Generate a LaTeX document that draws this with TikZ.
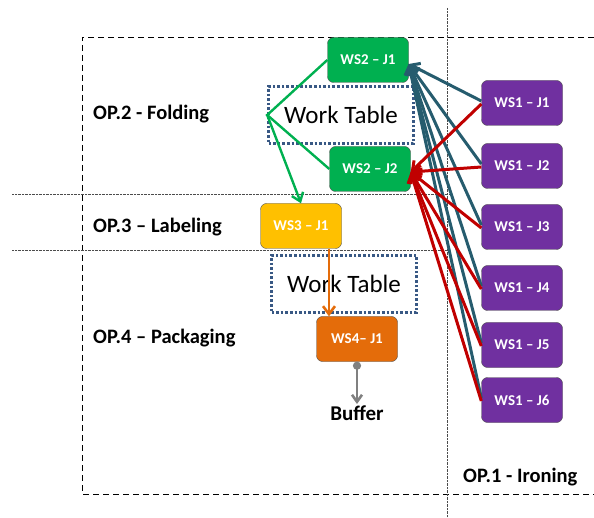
\documentclass[tikz,border=0pt]{standalone}
\usepackage{fontspec}
\setmainfont{Carlito}
\usetikzlibrary{arrows.meta}
\definecolor{wsgreen}{RGB}{0,176,80}
\definecolor{wspurple}{RGB}{112,48,160}
\definecolor{wsyellow}{RGB}{255,192,0}
\definecolor{wsorange}{RGB}{228,108,10}
\definecolor{flowteal}{RGB}{38,92,110}
\definecolor{flowred}{RGB}{192,0,0}
\definecolor{tableblue}{RGB}{56,88,132}
\begin{document}
\begin{tikzpicture}[x=1pt,y=-1pt,
    wsbox/.style={draw=black!70, rounded corners=6pt, minimum width=81pt, minimum height=45pt,
      text=white, font=\bfseries\fontsize{15}{17}\selectfont},
    tablebox/.style={draw=tableblue, line width=2.6pt, dotted, minimum width=145pt, minimum height=57pt,
      font=\fontsize{25}{29}\selectfont},
    oplabel/.style={anchor=west, inner sep=0pt, font=\bfseries\fontsize{20.5}{24}\selectfont},
    barb/.style={-{Straight Barb[length=8pt,width=12pt]}}]
  \useasboundingbox (0,0) rectangle (594,518);

  % zones
  \draw[dash pattern=on 6pt off 4pt, line width=0.9pt] (594,37) -- (82,37) -- (82,494) -- (594,494);
  \draw[densely dotted, black!70] (447,8) -- (447,518);
  \draw[densely dotted, black!70] (12,194) -- (450,194);
  \draw[densely dotted, black!70] (12,250) -- (450,250);

  \node[oplabel] (op2) at (93,114) {OP.2 - Folding};
  \node[oplabel] (op3) at (93,227) {OP.3 – Labeling};
  \node[oplabel] (op4) at (93,338) {OP.4 – Packaging};
  \node[oplabel] (op1) at (463,477) {OP.1 - Ironing};

  % work tables
  \node[tablebox] (wt1) at (341,115) {Work Table};
  \node[tablebox] (wt2) at (344,284) {Work Table};

  % stations
  \node[wsbox, fill=wsgreen] (ws2j1) at (368,60) {WS2 – J1};
  \node[wsbox, fill=wsgreen] (ws2j2) at (370,169) {WS2 – J2};
  \node[wsbox, fill=wsyellow] (ws3j1) at (301,226) {WS3 – J1};
  \node[wsbox, fill=wsorange] (ws4j1) at (357,339) {WS4– J1};
  \node[font=\bfseries\fontsize{21}{24}\selectfont] (buffer) at (357,413) {Buffer};

  \node[wsbox, fill=wspurple] (ws1j1) at (522,103) {WS1 – J1};
  \node[wsbox, fill=wspurple] (ws1j2) at (522,166) {WS1 – J2};
  \node[wsbox, fill=wspurple] (ws1j3) at (522,227) {WS1 – J3};
  \node[wsbox, fill=wspurple] (ws1j4) at (522,288) {WS1 – J4};
  \node[wsbox, fill=wspurple] (ws1j5) at (522,345) {WS1 – J5};
  \node[wsbox, fill=wspurple] (ws1j6) at (522,400) {WS1 – J6};

  % ironing -> folding
  \foreach \j in {1,...,6}
    \draw[flowteal, line width=3pt, barb] ([yshift=2pt]ws1j\j.west) -- ([yshift=-4pt]ws2j1.east);
  \foreach \j in {1,...,6}
    \draw[flowred, line width=3pt, barb] ([yshift=-1pt]ws1j\j.west) -- ([yshift=-3pt]ws2j2.east);

  % folding -> labeling -> packaging
  \draw[wsgreen, line width=2.4pt] (ws2j1.west) -- (wt1.west) -- (ws2j2.west);
  \draw[wsgreen, line width=2.4pt, barb] (wt1.west) -- (ws3j1.north);
  \draw[wsorange, line width=2.6pt, barb] ([xshift=28pt]ws3j1.south) -- ([xshift=-28pt]ws4j1.north);
  \draw[gray, line width=2.6pt, {Circle[length=8pt]}-{Straight Barb[length=7pt,width=10pt]}] (ws4j1.south) -- ([yshift=-2pt]buffer.north);
\end{tikzpicture}
\end{document}
